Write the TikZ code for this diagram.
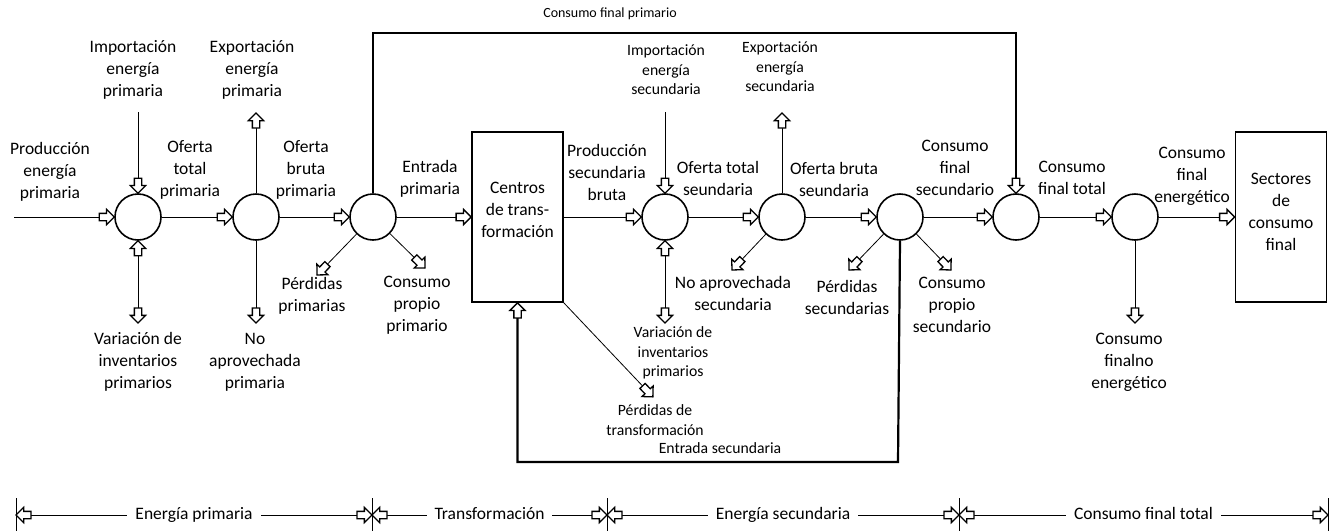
\documentclass[tikz,border=0pt]{standalone}
\usepackage{fontspec}
\setmainfont{Carlito}
\usetikzlibrary{shapes.arrows}
\usetikzlibrary{decorations.markings}
\newcommand{\fbig}{\fontsize{17.5}{22}\selectfont}
\newcommand{\fmid}{\fontsize{15.7}{19.5}\selectfont}
\newcommand{\fsml}{\fontsize{14}{17}\selectfont}
\tikzset{
  hub/.style={
    circle, draw, line width=1.6pt,
    minimum size=46pt, inner sep=0pt
  },
  unit/.style={
    draw, line width=1.8pt, align=center, font=\fbig,
    minimum width=91pt, minimum height=170pt
  },
  lb/.style={align=center, font=\fbig, inner sep=1pt},
  lbm/.style={align=center, font=\fmid, inner sep=1pt},
  scale label/.style={
    lb, fill=white, inner xsep=8pt,
    text height=12pt, text depth=4pt
  },
  blk/.style={
    single arrow, draw, fill=white, line width=1.3pt,
    inner sep=3pt, outer sep=0pt, minimum height=15pt,
    single arrow head extend=4pt, anchor=tip, transform shape
  },
  flow/.style={
    line width=0.8pt, postaction={decorate},
    decoration={markings, mark=at position 1 with {\node[blk]{};}}
  },
  flow2/.style={
    line width=0.8pt, postaction={decorate},
    decoration={markings,
      mark=at position 0 with {\node[blk, rotate=180]{};},
      mark=at position 1 with {\node[blk]{};}}
  },
  feed/.style={line width=2.2pt}
}
\begin{document}
\begin{tikzpicture}[x=1pt, y=-1pt]
  \useasboundingbox (0,0) rectangle (1335,531);
  % balance points and boxes
  \node[hub] (p1) at (138,217) {};
  \node[hub] (p2) at (256,217) {};
  \node[hub] (p3) at (373,217) {};
  \node[unit] (ct) at (517.5,217) {Centros\\de trans-\\formación\\[-8pt]};
  \node[hub] (s1) at (665,217) {};
  \node[hub] (s2) at (782,217) {};
  \node[hub] (s3) at (900,217) {};
  \node[hub] (f1) at (1016,217) {};
  \node[hub] (f2) at (1135,217) {};
  \node[unit] (sc) at (1281,217) {Sectores\\de\\consumo\\final\\[-12pt]};
  % free ends
  \coordinate (in0) at (14,217);
  \coordinate (impP) at (138,112);
  \coordinate (varP) at (138,323);
  \coordinate (expP) at (256,113);
  \coordinate (noaP) at (256,323);
  \coordinate (perP) at (317,275);
  \coordinate (cpP) at (425,268);
  \coordinate (impS) at (665,112);
  \coordinate (varS) at (665,323);
  \coordinate (expS) at (782,113);
  \coordinate (noaS) at (732,270);
  \coordinate (perS) at (849,270);
  \coordinate (cpS) at (951,270);
  \coordinate (perT) at (653,397);
  \coordinate (cfNE) at (1135,323);
  \coordinate (topL) at (700,33);
  \coordinate (botL) at (898,462);
  % main line
  \draw[flow] (in0) -- (p1);
  \draw[flow] (p1) -- (p2);
  \draw[flow] (p2) -- (p3);
  \draw[flow] (p3) -- (ct);
  \draw[flow] (ct) -- (s1);
  \draw[flow] (s1) -- (s2);
  \draw[flow] (s2) -- (s3);
  \draw[flow] (s3) -- (f1);
  \draw[flow] (f1) -- (f2);
  \draw[flow] (f2) -- (sc);
  % side flows
  \draw[flow] (impP) -- (p1);
  \draw[flow2] (p1) -- (varP);
  \draw[flow] (p2) -- (expP);
  \draw[flow] (p2) -- (noaP);
  \draw[flow] (p3) -- (perP);
  \draw[flow] (p3) -- (cpP);
  \draw[flow] (impS) -- (s1);
  \draw[flow2] (s1) -- (varS);
  \draw[flow] (s2) -- (expS);
  \draw[flow] (s2) -- (noaS);
  \draw[flow] (s3) -- (perS);
  \draw[flow] (s3) -- (cpS);
  \draw[flow] (ct.south east) -- (perT);
  \draw[flow] (f2) -- (cfNE);
  % loops
  \draw[flow, feed] (p3) |- (topL) -| (f1);
  \draw[flow, feed] (s3.south) -- (botL) -| (ct.south);
  % labels
  \node[lb] (tprod) at (50,172) {Producción\\energía\\primaria};
  \node[lb] (timpP) at (133,70) {Importación\\energía\\primaria};
  \node[lb] (texpP) at (252,70) {Exportación\\energía\\primaria};
  \node[lb] (toftP) at (190,170) {Oferta\\total\\primaria};
  \node[lb] (tofbP) at (306,170) {Oferta\\bruta\\primaria};
  \node[lb] (tvarP) at (138,362) {Variación de\\inventarios\\primarios};
  \node[lb] (tnoaP) at (255,362) {No\\aprovechada\\primaria};
  \node[lb] (tperP) at (312,296) {Pérdidas\\primarias};
  \node[lb] (tentP) at (430,179) {Entrada\\primaria};
  \node[lb] (tcpP) at (417,305) {Consumo\\propio\\primario};
  \node[lb] (tprodS) at (607,172) {Producción\\secundaria\\bruta};
  \node[lbm] (timpS) at (666,70) {Importación\\energía\\secundaria};
  \node[lbm] (texpS) at (780,67) {Exportación\\energía\\secundaria};
  \node[lb] (toftS) at (718,178) {Oferta total\\seundaria};
  \node[lb] (tofbS) at (834,179) {Oferta bruta\\seundaria};
  \node[lb] (tnoaS) at (733,293) {No aprovechada\\secundaria};
  \node[lb] (tperS) at (847,297) {Pérdidas\\secundarias};
  \node[lb] (tcpS) at (952,305) {Consumo\\propio\\secundario};
  \node[lb] (tcfS) at (955,168) {Consumo\\final\\secundario};
  \node[lbm] (tvarS) at (673,353) {Variación de\\inventarios\\primarios};
  \node[lbm] (tperT) at (655,420) {Pérdidas de\\transformación};
  \node[lbm] (tentS) at (720,448) {Entrada secundaria};
  \node[lb, font=\fsml] (tcfP) at (610,14) {Consumo final primario};
  \node[lb] (tcfT) at (1072,178) {Consumo\\final total};
  \node[lb] (tcfE) at (1192,176) {Consumo\\final\\energético};
  \node[lb] (tcfNE) at (1129,362) {Consumo\\finalno\\energético};
  % bottom scale
  \foreach \n/\x in {0/16,1/372,2/607,3/959,4/1328}{
    \coordinate (r\n) at (\x,515);
    \draw[line width=0.8pt] (\x,498) -- (\x,531);
  }
  \draw[flow2] (r0) -- node[scale label] (tep) {Energía primaria} (r1);
  \draw[flow2] (r1) -- node[scale label] (ttr) {Transformación} (r2);
  \draw[flow2] (r2) -- node[scale label] (tes) {Energía secundaria} (r3);
  \draw[flow2] (r3) -- node[scale label] (tct) {Consumo final total} (r4);
\end{tikzpicture}
\end{document}
